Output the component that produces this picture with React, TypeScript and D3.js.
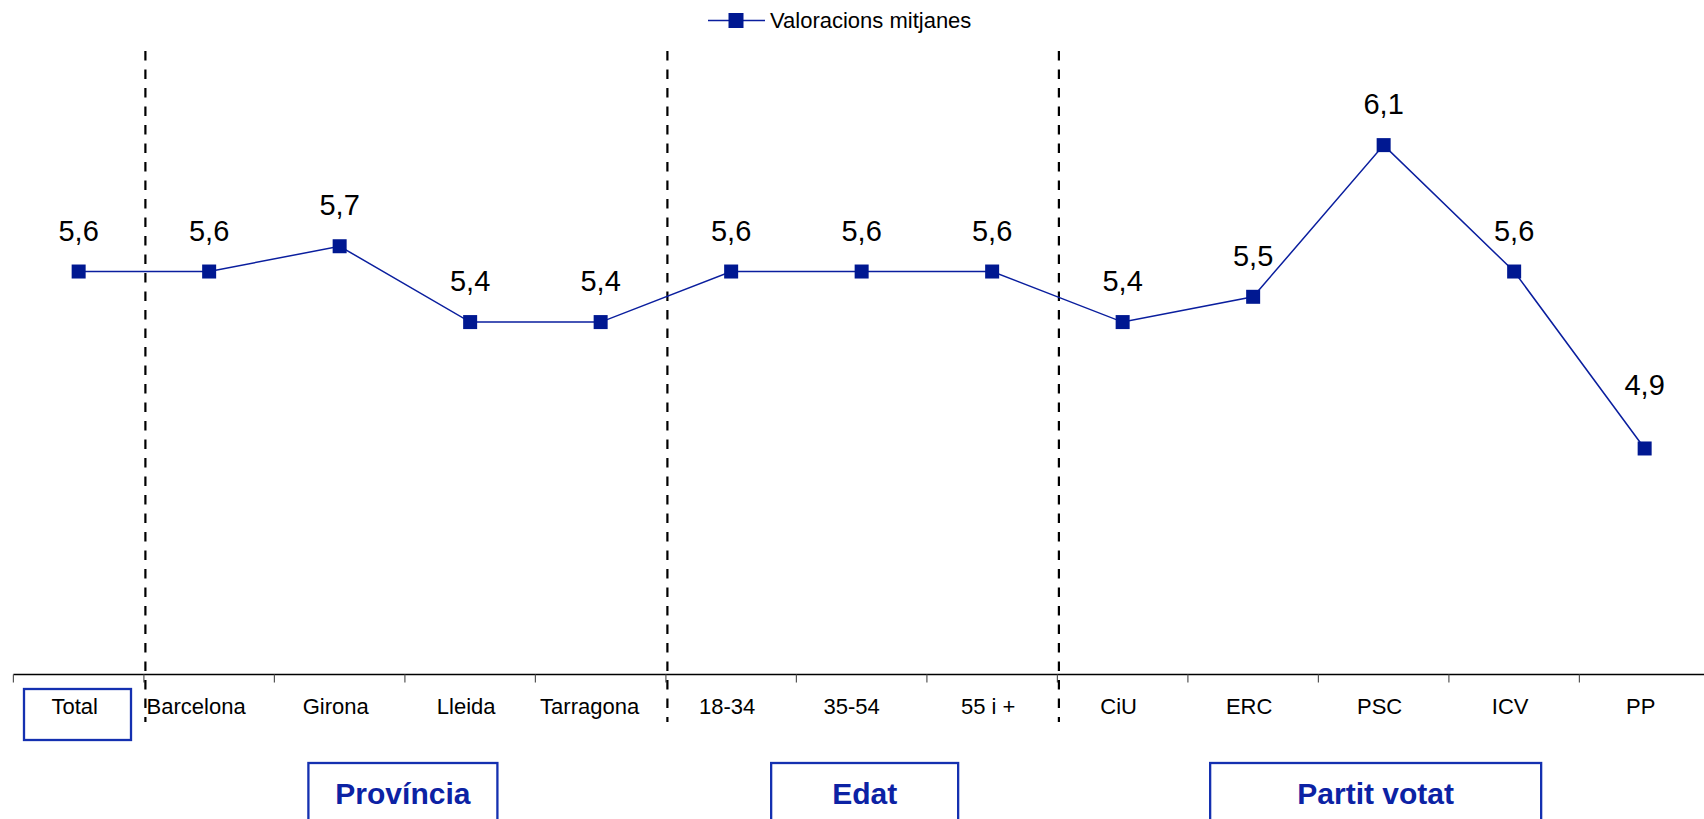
import React from "react";
import * as d3 from "d3";

const categories = ["Total", "Barcelona", "Girona", "Lleida", "Tarragona", "18-34", "35-54", "55 i +", "CiU", "ERC", "PSC", "ICV", "PP"];
const values = [5.6, 5.6, 5.7, 5.4, 5.4, 5.6, 5.6, 5.6, 5.4, 5.5, 6.1, 5.6, 4.9];
const valueLabels = ["5,6", "5,6", "5,7", "5,4", "5,4", "5,6", "5,6", "5,6", "5,4", "5,5", "6,1", "5,6", "4,9"];
const seriesName = "Valoracions mitjanes";
const groupNames = ["Província", "Edat", "Partit votat"];
const groupFirst = ["Barcelona", "18-34", "CiU"];
const groupLast = ["Tarragona", "55 i +", "PP"];

const W = 1704;
const H = 819;
const LINE = "#0a1e9e";
const MARK = "#001891";
const BOX = "#1430b0";
const BOXTEXT = "#0c22a4";
const FONT = "Arial, 'Liberation Sans', Helvetica, sans-serif";

// style tweaks per group box (width, horizontal offset)
const boxStyle: Record<string, { w: number; dx: number }> = {
  "Província": { w: 189, dx: -2 },
  "Edat": { w: 187, dx: 3 },
  "Partit votat": { w: 331, dx: -8 },
};
const labelLift: Record<string, number> = { PP: 53 };
const labelShift: Record<string, number> = { Barcelona: -9, Tarragona: -7, "35-54": -6 };

export default function App() {
  const x = d3.scaleBand<string>().domain(categories).range([13.4, 13.4 + 13 * 130.5]).padding(0);
  const y = d3.scaleLinear().domain([4, 6.5]).range([676, 44]);
  const cx = (c: string) => (x(c) as number) + x.bandwidth() / 2;
  const axisY = 674.5;

  const line = d3
    .line<number>()
    .x((_, i) => cx(categories[i]))
    .y((v) => y(v));

  const boundaries = d3.range(categories.length + 1).map((i) => 13.4 + i * x.bandwidth());
  const ms = 14;

  return (
    <svg width={W} height={H} style={{ position: "absolute", left: 0, top: 0, background: "#fff" }} fontFamily={FONT}>
      {/* legend */}
      <g>
        <line x1={708} x2={765} y1={20.5} y2={20.5} stroke={LINE} strokeWidth={1.5} />
        <rect x={728.5} y={13} width={15} height={15} fill={MARK} />
        <text x={770} y={28} fontSize={22} fill="#000">{seriesName}</text>
      </g>

      {/* axis */}
      <line x1={13.4} x2={W} y1={axisY} y2={axisY} stroke="#000" strokeWidth={1.3} />
      {boundaries.map((b, i) => (
        <line key={i} x1={b} x2={b} y1={axisY} y2={axisY + 8} stroke="#555" strokeWidth={1.2} />
      ))}

      {/* separators */}
      {groupFirst.map((c) => (
        <line key={c} x1={(x(c) as number) + 1.5} x2={(x(c) as number) + 1.5} y1={51} y2={722} stroke="#000" strokeWidth={2.2} strokeDasharray="9.5,9" />
      ))}

      {/* line + markers */}
      <path d={line(values) || ""} fill="none" stroke={LINE} strokeWidth={1.5} />
      {values.map((v, i) => (
        <rect key={i} x={cx(categories[i]) - ms / 2} y={y(v) - ms / 2} width={ms} height={ms} fill={MARK} />
      ))}
      {values.map((v, i) => (
        <text key={"l" + i} x={cx(categories[i])} y={y(v) - (labelLift[categories[i]] ?? 31)} textAnchor="middle" fontSize={29} fill="#000">
          {valueLabels[i]}
        </text>
      ))}

      {/* category labels */}
      {categories.map((c) => (
        <text key={c} x={cx(c) - 4 + (labelShift[c] ?? 0)} y={714} textAnchor="middle" fontSize={22} fill="#000">{c}</text>
      ))}

      {/* Total box */}
      <rect x={24} y={689} width={107} height={51} fill="none" stroke={BOX} strokeWidth={2.3} />

      {/* group boxes */}
      {groupNames.map((g, i) => {
        const x0 = x(groupFirst[i]) as number;
        const x1 = (x(groupLast[i]) as number) + x.bandwidth();
        const st = boxStyle[g];
        const c = (x0 + x1) / 2 + st.dx;
        return (
          <g key={g}>
            <rect x={c - st.w / 2} y={763} width={st.w} height={80} fill="none" stroke={BOX} strokeWidth={2.3} />
            <text x={c} y={804} textAnchor="middle" fontSize={30} fontWeight="bold" fill={BOXTEXT}>{g}</text>
          </g>
        );
      })}
    </svg>
  );
}
